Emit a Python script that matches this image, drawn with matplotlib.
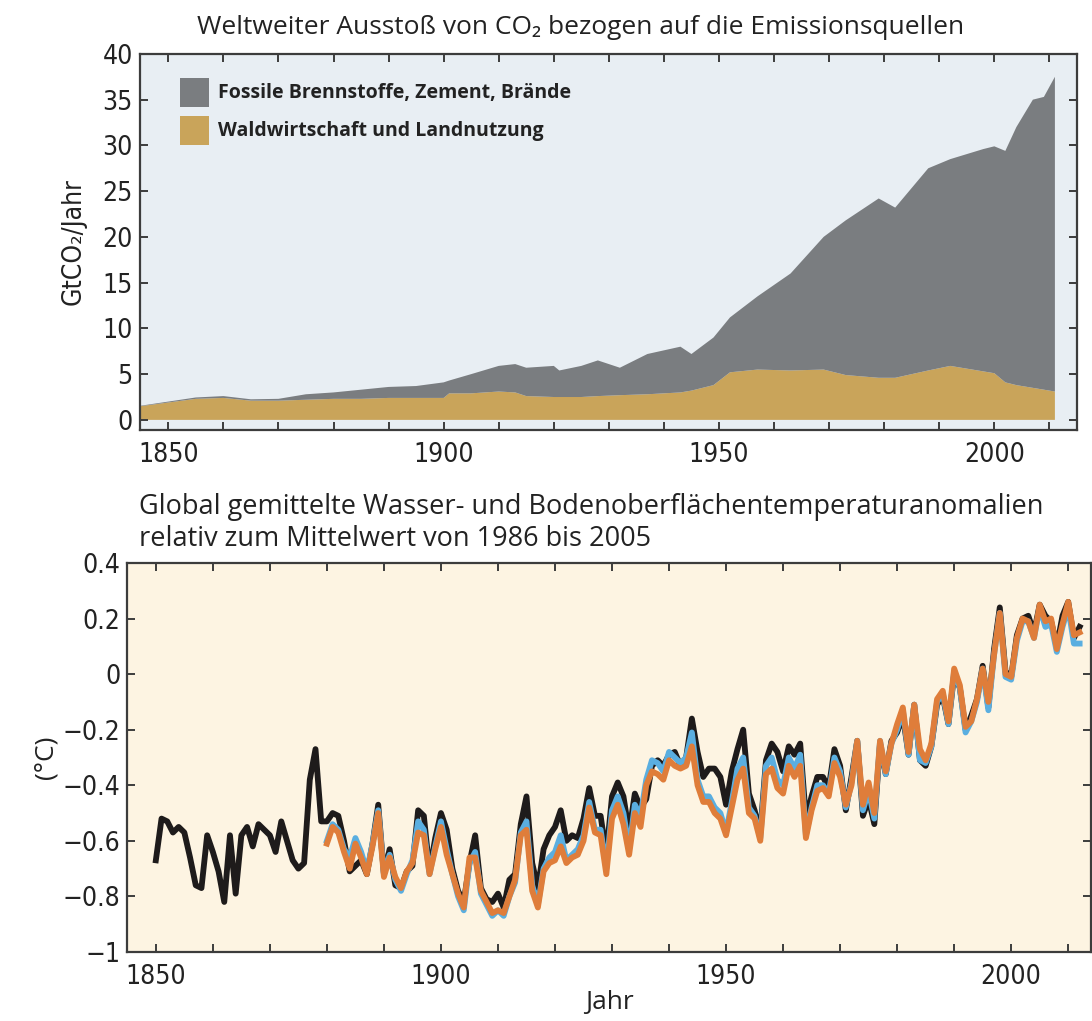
import matplotlib
matplotlib.use("Agg")
from matplotlib import pyplot as plt
from matplotlib import font_manager
from matplotlib.patches import Patch

# --- Daten: CO2-Ausstoss (GtCO2/Jahr) ---
jahre_co2 = [1845, 1850, 1855, 1860, 1865, 1870, 1875, 1880, 1885, 1890, 1895,
             1900, 1901, 1905, 1910, 1913, 1915, 1920, 1921, 1925, 1928, 1932,
             1937, 1943, 1945, 1949, 1952, 1957, 1963, 1969, 1973, 1979, 1982,
             1988, 1992, 1998, 2000, 2002, 2004, 2007, 2009, 2011]
landnutzung = [1.5, 1.9, 2.3, 2.4, 2.1, 2.1, 2.2, 2.3, 2.3, 2.4, 2.4,
               2.4, 2.9, 2.9, 3.1, 3.0, 2.6, 2.5, 2.5, 2.5, 2.6, 2.7,
               2.8, 3.0, 3.2, 3.8, 5.2, 5.5, 5.4, 5.5, 4.9, 4.6, 4.6,
               5.4, 5.9, 5.3, 5.1, 4.1, 3.8, 3.5, 3.3, 3.1]
fossil = [0.05, 0.1, 0.15, 0.2, 0.15, 0.2, 0.6, 0.7, 1.0, 1.2, 1.3,
          1.7, 1.4, 2.1, 2.8, 3.1, 3.1, 3.4, 2.9, 3.4, 3.9, 3.0,
          4.4, 5.0, 4.0, 5.2, 6.0, 8.0, 10.6, 14.5, 16.9, 19.6, 18.6,
          22.1, 22.6, 24.3, 24.8, 25.3, 28.2, 31.5, 32.0, 34.4]
namen_co2 = ["Fossile Brennstoffe, Zement, Brände", "Waldwirtschaft und Landnutzung"]

# --- Daten: Temperaturanomalien (°C) relativ zu 1986-2005 ---
jahre_schwarz = list(range(1850, 2013))
schwarz = [-0.67, -0.52, -0.53, -0.57, -0.55, -0.57, -0.66, -0.76, -0.77, -0.58,
           -0.64, -0.71, -0.82, -0.58, -0.79, -0.58, -0.55, -0.62, -0.54, -0.56,
           -0.58, -0.64, -0.53, -0.60, -0.67, -0.70, -0.68, -0.38, -0.27, -0.53,
           -0.53, -0.50, -0.51, -0.60, -0.71, -0.69, -0.67, -0.72, -0.61, -0.47,
           -0.72, -0.63, -0.76, -0.77, -0.71, -0.69, -0.49, -0.51, -0.71, -0.59,
           -0.50, -0.56, -0.70, -0.78, -0.82, -0.68, -0.58, -0.77, -0.81, -0.82,
           -0.79, -0.84, -0.74, -0.72, -0.54, -0.44, -0.68, -0.77, -0.63, -0.58,
           -0.55, -0.49, -0.60, -0.58, -0.59, -0.52, -0.41, -0.51, -0.51, -0.65,
           -0.44, -0.39, -0.44, -0.57, -0.43, -0.48, -0.45, -0.33, -0.31, -0.33,
           -0.29, -0.28, -0.33, -0.30, -0.16, -0.28, -0.37, -0.34, -0.34, -0.37,
           -0.47, -0.35, -0.27, -0.20, -0.43, -0.49, -0.57, -0.31, -0.25, -0.28,
           -0.35, -0.26, -0.29, -0.25, -0.52, -0.44, -0.37, -0.37, -0.41, -0.27,
           -0.33, -0.49, -0.37, -0.24, -0.51, -0.45, -0.54, -0.25, -0.36, -0.24,
           -0.21, -0.15, -0.29, -0.11, -0.31, -0.33, -0.26, -0.11, -0.08, -0.18,
           0.00, -0.05, -0.20, -0.15, -0.09, 0.03, -0.12, 0.09, 0.24, 0.01,
           -0.01, 0.14, 0.20, 0.21, 0.15, 0.25, 0.21, 0.19, 0.10, 0.21,
           0.26, 0.13, 0.17]

jahre_farbig = list(range(1880, 2013))
blau = [-0.60, -0.54, -0.56, -0.63, -0.66, -0.59, -0.64, -0.71, -0.61, -0.49,
        -0.72, -0.65, -0.74, -0.78, -0.72, -0.67, -0.53, -0.56, -0.72, -0.62,
        -0.53, -0.63, -0.72, -0.80, -0.85, -0.68, -0.64, -0.79, -0.83, -0.87,
        -0.85, -0.87, -0.80, -0.75, -0.57, -0.53, -0.76, -0.83, -0.70, -0.66,
        -0.64, -0.58, -0.67, -0.65, -0.63, -0.58, -0.46, -0.56, -0.56, -0.70,
        -0.49, -0.44, -0.50, -0.63, -0.47, -0.51, -0.38, -0.31, -0.32, -0.35,
        -0.28, -0.30, -0.32, -0.30, -0.21, -0.38, -0.44, -0.44, -0.48, -0.50,
        -0.57, -0.46, -0.34, -0.30, -0.48, -0.51, -0.59, -0.33, -0.30, -0.38,
        -0.40, -0.30, -0.34, -0.29, -0.58, -0.48, -0.40, -0.40, -0.43, -0.30,
        -0.35, -0.48, -0.39, -0.24, -0.49, -0.42, -0.52, -0.24, -0.36, -0.25,
        -0.20, -0.13, -0.29, -0.11, -0.31, -0.32, -0.26, -0.10, -0.07, -0.18,
        0.01, -0.05, -0.21, -0.17, -0.10, 0.02, -0.13, 0.07, 0.22, -0.01,
        -0.02, 0.12, 0.19, 0.19, 0.13, 0.24, 0.17, 0.18, 0.08, 0.17,
        0.24, 0.11, 0.11]
orange = [-0.61, -0.55, -0.57, -0.64, -0.70, -0.61, -0.66, -0.72, -0.62, -0.50,
          -0.73, -0.66, -0.73, -0.77, -0.71, -0.68, -0.57, -0.58, -0.72, -0.63,
          -0.55, -0.65, -0.72, -0.79, -0.84, -0.66, -0.66, -0.78, -0.82, -0.86,
          -0.85, -0.86, -0.80, -0.74, -0.58, -0.56, -0.78, -0.84, -0.71, -0.68,
          -0.67, -0.62, -0.68, -0.66, -0.65, -0.60, -0.48, -0.57, -0.58, -0.72,
          -0.52, -0.47, -0.54, -0.65, -0.50, -0.55, -0.40, -0.35, -0.36, -0.38,
          -0.31, -0.33, -0.34, -0.33, -0.26, -0.40, -0.46, -0.46, -0.50, -0.52,
          -0.58, -0.48, -0.38, -0.34, -0.50, -0.52, -0.60, -0.36, -0.34, -0.41,
          -0.43, -0.33, -0.37, -0.33, -0.59, -0.49, -0.42, -0.41, -0.44, -0.32,
          -0.37, -0.47, -0.40, -0.24, -0.47, -0.39, -0.50, -0.24, -0.35, -0.25,
          -0.18, -0.12, -0.28, -0.11, -0.27, -0.31, -0.25, -0.09, -0.06, -0.17,
          0.02, -0.04, -0.19, -0.17, -0.09, 0.02, -0.10, 0.07, 0.22, 0.00,
          -0.01, 0.13, 0.20, 0.19, 0.13, 0.25, 0.19, 0.20, 0.09, 0.18,
          0.26, 0.14, 0.15]

co2_yticks = [0, 5, 10, 15, 20, 25, 30, 35, 40]
jahr_ticks = list(range(1850, 2011, 10))
jahr_labels = [str(j) if j % 50 == 0 else "" for j in jahr_ticks]
temp_yticks = [0.4, 0.2, 0.0, -0.2, -0.4, -0.6, -0.8, -1.0]
temp_ylabels = ["0.4", "0.2", "0", "\u22120.2", "\u22120.4", "\u22120.6", "\u22120.8", "\u22121"]

# schmale Schrift fuer die Achsen, wenn vorhanden
vorhanden = {(f.name, f.stretch) for f in font_manager.fontManager.ttflist}
namen = {n for n, s in vorhanden}
TICKSTRETCH = "normal"
if "Liberation Sans Narrow" in namen:
    TICKFONT = ["Liberation Sans Narrow", "DejaVu Sans"]
elif ("DejaVu Sans", "condensed") in vorhanden:
    TICKFONT = ["DejaVu Sans"]
    TICKSTRETCH = "condensed"
else:
    TICKFONT = ["Liberation Sans", "DejaVu Sans"]
TITLEFONT = ["Open Sans", "DejaVu Sans"]
SPINE = "#3c3c3c"
TEXT = "#222222"

fig = plt.figure(figsize=(10.92, 10.21), dpi=100)
fig.patch.set_facecolor("white")

# ---------------- oben: CO2 ----------------
ax1 = fig.add_axes([0.1279, 0.5789, 0.8583, 0.3683])
ax1.set_facecolor("#e8eef3")
ax1.stackplot(jahre_co2, landnutzung, fossil, colors=["#c9a45a", "#7a7d80"], linewidth=0)
ax1.set_xlim(1844.8, 2015)
ax1.set_ylim(-1.1, 40)
ax1.set_yticks(co2_yticks)
ax1.set_yticklabels([str(v) for v in co2_yticks])
ax1.set_xticks(jahr_ticks)
ax1.set_xticklabels(jahr_labels)
ax1.set_ylabel("GtCO\u2082/Jahr", fontsize=19, family=TICKFONT, stretch=TICKSTRETCH,
               labelpad=11, color=TEXT)

handles = [Patch(facecolor="#7a7d80", edgecolor="none"), Patch(facecolor="#c9a45a", edgecolor="none")]
leg = ax1.legend(handles, namen_co2, loc="upper left", bbox_to_anchor=(0.043, 0.937),
                 frameon=False, borderpad=0, borderaxespad=0, handlelength=1.47,
                 handleheight=1.92, handletextpad=0.5, labelspacing=0.46,
                 prop={"family": TITLEFONT, "weight": "bold", "size": 14})
for t in leg.get_texts():
    t.set_color(TEXT)

# ---------------- unten: Temperatur ----------------
ax2 = fig.add_axes([0.1166, 0.0676, 0.8825, 0.381])
ax2.set_facecolor("#fdf4e2")
ax2.plot(jahre_schwarz, schwarz, color="#1e1b1b", lw=4.2, solid_joinstyle="round", zorder=3)
ax2.plot(jahre_farbig, blau, color="#5aaee0", lw=4.2, solid_joinstyle="round", zorder=4)
ax2.plot(jahre_farbig, orange, color="#df7d3a", lw=4.2, solid_joinstyle="round", zorder=5)
ax2.set_xlim(1845, 2014)
ax2.set_ylim(-1, 0.4)
ax2.set_yticks(temp_yticks)
ax2.set_yticklabels(temp_ylabels)
ax2.set_xticks(jahr_ticks)
ax2.set_xticklabels(jahr_labels)
ax2.set_ylabel("(°C)", fontsize=19, family=TITLEFONT, labelpad=3, color=TEXT)
ax2.set_xlabel("Jahr", fontsize=19, family=TITLEFONT, labelpad=0, color=TEXT)

for ax in (ax1, ax2):
    for s in ax.spines.values():
        s.set_color(SPINE)
        s.set_linewidth(1.6)
    ax.tick_params(direction="in", length=6, width=1.4, color=SPINE,
                   top=True, right=True, labelsize=19, labelcolor=TEXT)
    ax.tick_params(axis="x", pad=9)
    ax.tick_params(axis="y", pad=5)
    for lab in ax.get_xticklabels() + ax.get_yticklabels():
        lab.set_family(TICKFONT)
        lab.set_stretch(TICKSTRETCH)

fig.text(581 / 1092, 1 - 27 / 1021,
         "Weltweiter Ausstoß von CO\u2082 bezogen auf die Emissionsquellen",
         ha="center", va="center", fontsize=19, family=TITLEFONT, color=TEXT)
fig.text(139 / 1092, 1 - 523 / 1021,
         "Global gemittelte Wasser- und Bodenoberflächentemperaturanomalien\nrelativ zum Mittelwert von 1986 bis 2005",
         ha="left", va="center", fontsize=19.5, family=TITLEFONT, color=TEXT,
         linespacing=1.15)

fig.savefig("out.png", dpi=100)
